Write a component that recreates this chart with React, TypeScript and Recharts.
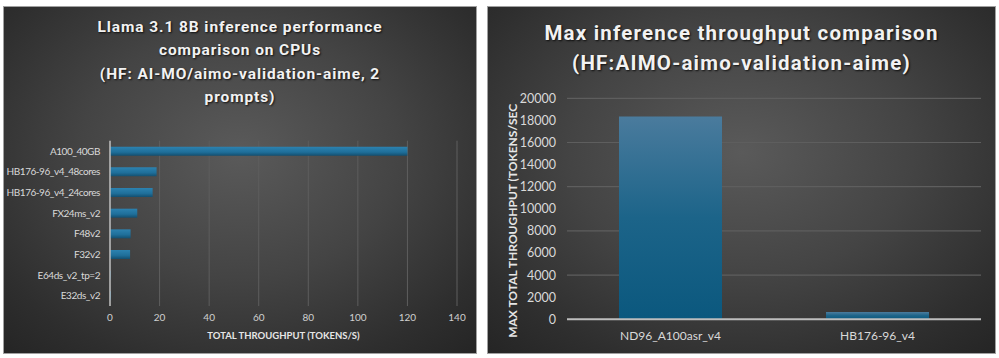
import React from 'react';
import { BarChart, Bar, XAxis, YAxis, CartesianGrid, Label } from 'recharts';

const leftCategories = ['A100_40GB', 'HB176-96_v4_48cores', 'HB176-96_v4_24cores', 'FX24ms_v2', 'F48v2', 'F32v2', 'E64ds_v2_tp=2', 'E32ds_v2'];
const leftValues = [120, 18.8, 17.2, 11.0, 8.3, 8.1, 0.3, 0.4];
const leftTicks = [0, 20, 40, 60, 80, 100, 120, 140];

const rightCategories = ['ND96_A100asr_v4', 'HB176-96_v4'];
const rightValues = [18350, 650];
const rightTicks = [0, 2000, 4000, 6000, 8000, 10000, 12000, 14000, 16000, 18000, 20000];

const leftData = leftCategories.map((name, i) => ({ name, value: leftValues[i] }));
const rightData = rightCategories.map((name, i) => ({ name, value: rightValues[i] }));

const panelBg = 'radial-gradient(ellipse 75% 80% at 50% 42%, #5a5a5a 0%, #444 45%, #2e2e2e 80%, #242424 100%)';
const FONT = 'Lato, "Liberation Sans", sans-serif';
const TITLE_FONT = 'Roboto, "DejaVu Sans", sans-serif';

const YTitle = (props: any) => {
  const vb = props.viewBox;
  const x = vb.x + 6;
  const y = vb.y + vb.height / 2 + 12;
  return (
    <text
      x={x}
      y={y}
      transform={`rotate(-90, ${x}, ${y})`}
      textAnchor="middle"
      dominantBaseline="central"
      fill="#e6e6e6"
      fontFamily={FONT}
      fontWeight={700}
      fontSize={12}
    >
      MAX TOTAL THROUGHPUT (TOKENS/SEC
    </text>
  );
};

export default function App() {
  return (
    <div style={{ position: 'absolute', left: 0, top: 0, width: 999, height: 358, background: '#fff' }}>
      {/* Left panel */}
      <div
        style={{
          position: 'absolute', left: 3, top: 6, width: 474, height: 348,
          boxSizing: 'border-box', border: '1px solid #a0a0a0', background: panelBg, overflow: 'hidden',
        }}
      >
        <div
          style={{
            position: 'absolute', left: 0, top: 9, width: 472, textAlign: 'center',
            fontFamily: TITLE_FONT, fontWeight: 700, fontSize: 15.5, lineHeight: '23.3px',
            letterSpacing: 0.9, color: '#f2f2f2', textShadow: '1px 1px 2px rgba(0,0,0,0.8)',
          }}
        >
          <div>Llama 3.1 8B inference performance</div>
          <div>comparison on CPUs</div>
          <div>(HF: AI-MO/aimo-validation-aime, 2</div>
          <div>prompts)</div>
        </div>
        <div style={{ position: 'absolute', left: -1, top: -1 }}>
          <BarChart
            width={474}
            height={348}
            data={leftData}
            layout="vertical"
            margin={{ top: 134.7, right: 20, bottom: 18, left: 0 }}
            barSize={9}
          >
            <defs>
              <linearGradient id="lbar" x1="0" y1="0" x2="0" y2="1">
                <stop offset="0%" stopColor="#2c82b0" />
                <stop offset="60%" stopColor="#1f6f9a" />
                <stop offset="100%" stopColor="#134f70" />
              </linearGradient>
            </defs>
            <CartesianGrid horizontal={false} vertical={true} stroke="#5e5e5e" strokeWidth={1} />
            <XAxis
              type="number"
              domain={[0, 140]}
              ticks={leftTicks}
              axisLine={false}
              tickLine={false}
              height={30}
              tick={{ fill: '#d0d0d0', fontSize: 10, fontFamily: FONT }}
            >
              <Label
                value="TOTAL THROUGHPUT (TOKENS/S)"
                position="insideBottom"
                offset={-3}
                style={{ fill: '#e6e6e6', fontSize: 9.5, fontWeight: 700, fontFamily: FONT }}
              />
            </XAxis>
            <YAxis
              type="category"
              dataKey="name"
              width={107}
              axisLine={{ stroke: '#bdbdbd', strokeWidth: 1.5 }}
              tickLine={false}
              tickMargin={4}
              interval={0}
              tick={{ fill: '#d9d9d9', fontSize: 10, fontFamily: FONT, letterSpacing: -0.45 }}
            />
            <Bar dataKey="value" fill="url(#lbar)" isAnimationActive={false} />
          </BarChart>
        </div>
      </div>

      {/* Right panel */}
      <div
        style={{
          position: 'absolute', left: 487, top: 6, width: 509, height: 348,
          boxSizing: 'border-box', border: '1px solid #a0a0a0', background: panelBg, overflow: 'hidden',
        }}
      >
        <div
          style={{
            position: 'absolute', left: 0, top: 11, width: 507, textAlign: 'center',
            fontFamily: TITLE_FONT, fontWeight: 700, fontSize: 20.5, lineHeight: '30px',
            letterSpacing: 1.2, color: '#f2f2f2', textShadow: '1px 1px 2px rgba(0,0,0,0.8)',
          }}
        >
          <div>Max inference throughput comparison</div>
          <div>(HF:AIMO-aimo-validation-aime)</div>
        </div>
        <div style={{ position: 'absolute', left: -1, top: -1 }}>
          <BarChart
            width={509}
            height={348}
            data={rightData}
            margin={{ top: 92.3, right: 15, bottom: 10, left: 20 }}
            barSize={103}
          >
            <defs>
              <linearGradient id="rbar" x1="0" y1="0" x2="0" y2="1">
                <stop offset="0%" stopColor="#4a7b9d" />
                <stop offset="50%" stopColor="#1c6489" />
                <stop offset="100%" stopColor="#0b587e" />
              </linearGradient>
            </defs>
            <CartesianGrid vertical={false} horizontal={true} stroke="#5e5e5e" strokeWidth={1.2} />
            <XAxis
              dataKey="name"
              height={24.7}
              axisLine={{ stroke: '#bdbdbd', strokeWidth: 2 }}
              tickLine={false}
              tickMargin={6}
              tick={{ fill: '#d9d9d9', fontSize: 12, fontFamily: FONT }}
            />
            <YAxis
              type="number"
              domain={[0, 20000]}
              ticks={rightTicks}
              width={60}
              axisLine={false}
              tickLine={false}
              tickMargin={5}
              tick={{ fill: '#d9d9d9', fontSize: 12.5, fontFamily: FONT }}
              label={<YTitle />}
            />
            <Bar dataKey="value" fill="url(#rbar)" isAnimationActive={false} />
          </BarChart>
        </div>
      </div>
    </div>
  );
}
